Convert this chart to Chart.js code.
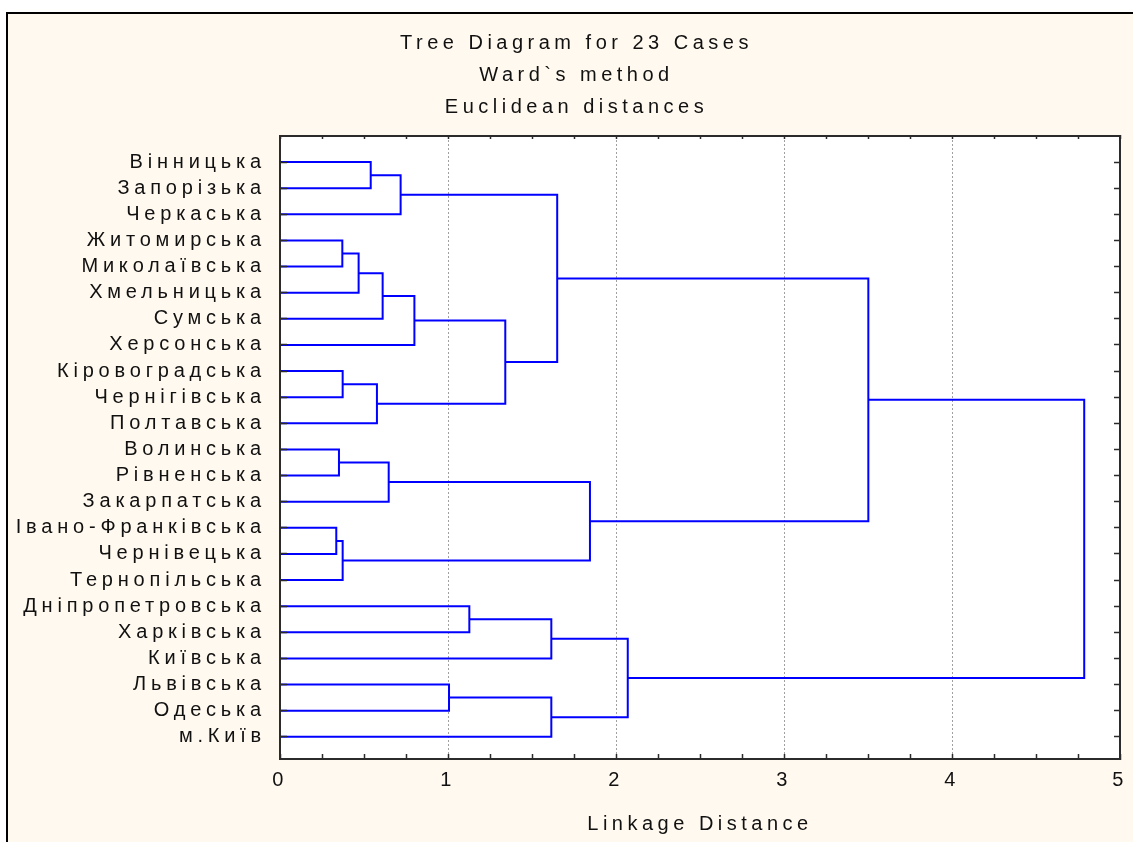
<!DOCTYPE html>
<html>
<head>
<meta charset="utf-8">
<script src="https://cdn.jsdelivr.net/npm/chart.js@4"></script>
<style>
  html, body { margin: 0; padding: 0; background: #ffffff; }
  canvas { display: block; }
</style>
</head>
<body>
<canvas id="tree" width="1133" height="842"></canvas>
<script>
/////////////////////////////////////////////////////////////
// DATA

// leaves, top to bottom
const leafNames = [
  "Вінницька", "Запорізька", "Черкаська", "Житомирська", "Миколаївська",
  "Хмельницька", "Сумська", "Херсонська", "Кіровоградська", "Чернігівська",
  "Полтавська", "Волинська", "Рівненська", "Закарпатська", "Івано-Франківська",
  "Чернівецька", "Тернопільська", "Дніпропетровська", "Харківська", "Київська",
  "Львівська", "Одеська", "м.Київ",
];

// merges: index < 23 is a leaf, otherwise cluster 23 + k
const mergeLeft = [14, 11, 3, 8, 23, 25, 0, 26, 28, 24, 29, 31, 20, 17, 34, 36, 35, 33, 32, 38, 40, 43];
const mergeRight = [15, 12, 4, 9, 16, 5, 1, 10, 6, 13, 2, 7, 21, 18, 30, 19, 22, 37, 27, 39, 41, 42];
const mergeHeight = [0.335, 0.351, 0.371, 0.373, 0.373, 0.468, 0.54, 0.577, 0.611, 0.647, 0.718,
  0.80, 1.006, 1.127, 1.341, 1.615, 1.615, 1.65, 1.845, 2.07, 3.502, 4.787];

const titleLines = ["Tree Diagram for 23 Cases", "Ward`s method", "Euclidean distances"];
const xAxisTitle = "Linkage Distance";

/////////////////////////////////////////////////////////////
// build the links

const nodeX = [];
const nodeY = [];
leafNames.forEach((_, i) => {
  nodeX[i] = 0;
  nodeY[i] = i;
});

const links = mergeLeft.map((a, k) => {
  const b = mergeRight[k];
  const h = mergeHeight[k];
  const id = leafNames.length + k;
  nodeX[id] = h;
  nodeY[id] = (nodeY[a] + nodeY[b]) / 2;
  return {
    data: [
      { x: nodeX[a], y: nodeY[a] },
      { x: h, y: nodeY[a] },
      { x: h, y: nodeY[b] },
      { x: nodeX[b], y: nodeY[b] },
    ],
    borderColor: "#0000ff",
    borderWidth: 2,
    pointRadius: 0,
    tension: 0,
    fill: false,
  };
});

/////////////////////////////////////////////////////////////
// plugins

const frame = {
  id: "frame",
  beforeDraw(chart) {
    const { ctx, chartArea: a } = chart;
    ctx.save();
    ctx.fillStyle = "#ffffff";
    ctx.fillRect(0, 0, chart.width, chart.height);
    ctx.fillStyle = "#fff9ef";
    ctx.fillRect(7, 13, chart.width - 7, chart.height - 13);
    ctx.strokeStyle = "#000000";
    ctx.lineWidth = 2;
    ctx.beginPath();
    ctx.moveTo(7, chart.height);
    ctx.lineTo(7, 13);
    ctx.lineTo(chart.width, 13);
    ctx.stroke();
    ctx.fillStyle = "#ffffff";
    ctx.fillRect(a.left, a.top, a.right - a.left, a.bottom - a.top);
    ctx.restore();
    ctx.letterSpacing = "4.5px";
  },
  afterDatasetsDraw(chart) {
    chart.ctx.letterSpacing = "4.8px";
  },
};

const leafTicks = (scale) => {
  scale.ticks = leafNames.map((_, i) => ({ value: i }));
};

const font = "'Liberation Sans', Arial, sans-serif";
const axisColor = "#2b2b2b";
const textColor = "#111111";

/////////////////////////////////////////////////////////////
// chart

new Chart(document.getElementById("tree"), {
  type: "line",
  data: { datasets: links },
  plugins: [frame],
  options: {
    responsive: false,
    animation: false,
    layout: { padding: { left: 8, right: -12, top: 14, bottom: 0 } },
    plugins: {
      legend: { display: false },
      tooltip: { enabled: false },
      title: {
        display: true,
        text: titleLines,
        color: textColor,
        font: { family: font, size: 20, weight: "normal", lineHeight: "32px" },
        padding: { top: 13, bottom: 13 },
      },
    },
    scales: {
      x: {
        type: "linear",
        position: "bottom",
        min: 0,
        max: 5,
        afterFit: (s) => { s.height = 83; },
        ticks: {
          stepSize: 0.25,
          maxTicksLimit: 30,
          autoSkip: false,
          maxRotation: 0,
          padding: 0,
          color: textColor,
          font: { family: font, size: 20, lineHeight: "53px" },
          callback: (v) => (Number.isInteger(v) ? v : ""),
        },
        grid: {
          color: (c) =>
            c.tick && Number.isInteger(c.tick.value) && c.tick.value > 0 && c.tick.value < 5
              ? "#a0a0a0"
              : "rgba(0,0,0,0)",
          lineWidth: 1,
          tickColor: axisColor,
          tickWidth: 1.5,
          tickLength: -5,
        },
        border: { display: true, color: axisColor, width: 2, dash: [2, 2] },
        title: {
          display: true,
          text: xAxisTitle,
          color: textColor,
          font: { family: font, size: 20, lineHeight: 1.2 },
          padding: { top: 0, bottom: 6 },
        },
      },
      x2: {
        type: "linear",
        position: "top",
        min: 0,
        max: 5,
        afterFit: (s) => { s.height = 0; },
        ticks: { display: false, stepSize: 0.25, maxTicksLimit: 30, autoSkip: false },
        grid: { color: "rgba(0,0,0,0)", tickColor: axisColor, tickWidth: 1.5, tickLength: -3 },
        border: { display: true, color: axisColor, width: 2 },
      },
      y: {
        type: "linear",
        position: "left",
        reverse: true,
        bounds: "data",
        min: -1,
        max: 22.85,
        afterBuildTicks: leafTicks,
        afterFit: (s) => { s.width = 272; },
        ticks: {
          autoSkip: false,
          padding: 21,
          z: 1,
          color: textColor,
          font: { family: font, size: 20 },
          callback: (v) => leafNames[v],
        },
        grid: { z: 1, color: "rgba(0,0,0,0)", tickColor: axisColor, tickWidth: 1.5, tickLength: -7 },
        border: { z: 1, display: true, color: axisColor, width: 2 },
      },
      y2: {
        type: "linear",
        position: "right",
        reverse: true,
        bounds: "data",
        min: -1,
        max: 22.85,
        afterBuildTicks: leafTicks,
        afterFit: (s) => { s.width = 25; },
        ticks: { display: false, autoSkip: false },
        grid: { z: 1, color: "rgba(0,0,0,0)", tickColor: axisColor, tickWidth: 1.5, tickLength: -6 },
        border: { z: 1, display: true, color: axisColor, width: 2 },
      },
    },
  },
});
</script>
</body>
</html>
